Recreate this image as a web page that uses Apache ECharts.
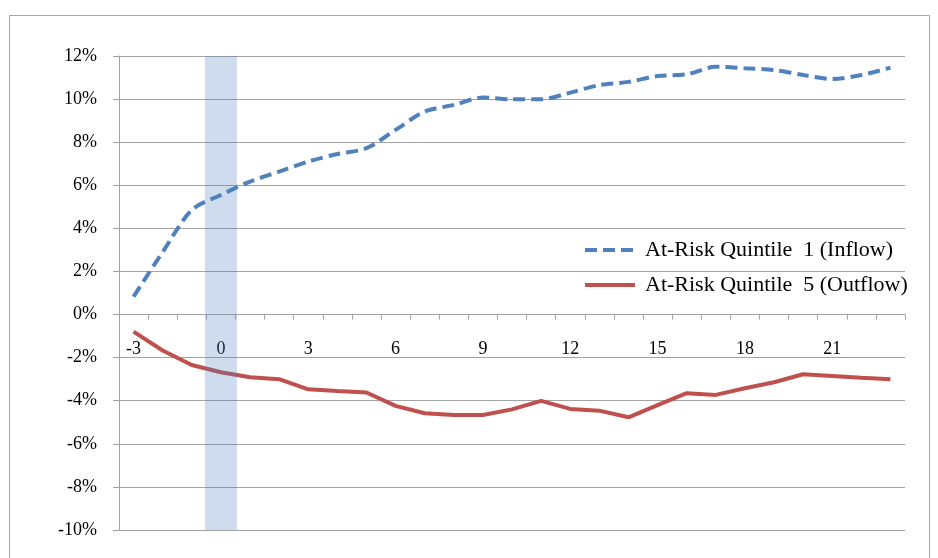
<!DOCTYPE html>
<html>
<head>
<meta charset="utf-8">
<script src="https://cdn.jsdelivr.net/npm/echarts@6/dist/echarts.min.js"></script>
<style>
  html, body { margin: 0; padding: 0; background: #fff; }
  #chart { width: 938px; height: 558px; }
</style>
</head>
<body>
<div id="chart"></div>
<script>
// Event-time axis: months relative to the event (0 is highlighted)
const months = ['-3','-2','-1','0','1','2','3','4','5','6','7','8','9','10','11','12','13','14','15','16','17','18','19','20','21','22','23'];

// Cumulative flows, in percent
const inflowQ1 = [0.83, 2.9, 4.85, 5.55, 6.17, 6.63, 7.1, 7.45, 7.72, 8.57, 9.42, 9.73, 10.07, 9.99, 9.99, 10.3, 10.65, 10.8, 11.07, 11.15, 11.5, 11.43, 11.35, 11.12, 10.93, 11.12, 11.46];
const outflowQ5 = [-0.79, -1.67, -2.34, -2.68, -2.91, -3.0, -3.47, -3.55, -3.62, -4.24, -4.58, -4.66, -4.66, -4.4, -4.01, -4.38, -4.46, -4.77, -4.2, -3.65, -3.73, -3.42, -3.14, -2.77, -2.85, -2.93, -3.0];

const seriesNames = ['At-Risk Quintile  1 (Inflow)', 'At-Risk Quintile  5 (Outflow)'];

// Highlighted event month and the vertical range it spans
const eventMonth = '0';
const yMin = -10, yMax = 12, yStep = 2;

const bandUp = months.map(m => (m === eventMonth ? yMax : null));
const bandDown = months.map(m => (m === eventMonth ? yMin : null));

const serif = 'Liberation Serif';
const gridGray = '#a3a3a3';
const blue = '#4f81bd', red = '#c0504d';
const inflowLine = { color: blue, width: 4, type: [12, 6] };
const outflowLine = { color: red, width: 4, type: 'solid' };

// Plot area in pixels
const gridTop = 56, gridBottom = 28, chartHeight = 558;
const plotHeight = chartHeight - gridTop - gridBottom;
// Lift the category axis from the bottom edge up to the zero line
const zeroOffset = -plotHeight * (0 - yMin) / (yMax - yMin);

const chart = echarts.init(document.getElementById('chart'), null, { renderer: 'canvas' });
chart.setOption({
  animation: false,
  backgroundColor: '#fff',
  graphic: [{
    type: 'rect',
    shape: { x: 9.5, y: 15.5, width: 920, height: 560 },
    style: { fill: 'none', stroke: '#a6a6a6', lineWidth: 1 },
    silent: true
  }],
  grid: { left: 119, right: 33, top: gridTop, bottom: gridBottom, containLabel: false, outerBoundsMode: 'none' },
  legend: {
    data: [
      { name: seriesNames[0], lineStyle: inflowLine },
      { name: seriesNames[1], lineStyle: outflowLine }
    ],
    orient: 'vertical',
    left: 578,
    top: 234,
    itemWidth: 50,
    itemHeight: 14,
    itemGap: 13,
    itemStyle: { color: 'rgba(0,0,0,0)', borderWidth: 0, opacity: 0 },
    textStyle: { fontFamily: serif, fontSize: 22, color: '#000', padding: [0, 0, 0, 5] }
  },
  xAxis: {
    type: 'category',
    data: months,
    boundaryGap: true,
    position: 'bottom',
    offset: zeroOffset,
    axisLine: { onZero: false, lineStyle: { color: gridGray, width: 1 } },
    axisTick: { show: true, interval: 0, length: 5, lineStyle: { color: gridGray } },
    axisLabel: { interval: 2, margin: 26, fontFamily: serif, fontSize: 18, color: '#000' },
    splitLine: { show: false }
  },
  yAxis: {
    type: 'value',
    min: yMin,
    max: yMax,
    interval: yStep,
    axisLine: { show: true, lineStyle: { color: gridGray, width: 1 } },
    axisTick: { show: true, length: 6, lineStyle: { color: gridGray } },
    axisLabel: { margin: 22, fontFamily: serif, fontSize: 18, color: '#000', formatter: v => v + '%' },
    splitLine: { show: true, lineStyle: { color: gridGray, width: 1 } }
  },
  series: [
    {
      name: seriesNames[0],
      type: 'line',
      data: inflowQ1,
      symbol: 'none',
      smooth: 0.3,
      z: 2,
      lineStyle: inflowLine,
      itemStyle: { color: blue }
    },
    {
      name: seriesNames[1],
      type: 'line',
      data: outflowQ5,
      symbol: 'none',
      z: 2,
      lineStyle: outflowLine,
      itemStyle: { color: red }
    },
    {
      type: 'bar',
      data: bandUp,
      stack: 'band',
      barWidth: 32,
      silent: true,
      z: 3,
      itemStyle: { color: 'rgba(79,129,189,0.28)' }
    },
    {
      type: 'bar',
      data: bandDown,
      stack: 'band',
      barWidth: 32,
      silent: true,
      z: 3,
      itemStyle: { color: 'rgba(79,129,189,0.28)' }
    }
  ]
});
</script>
</body>
</html>
